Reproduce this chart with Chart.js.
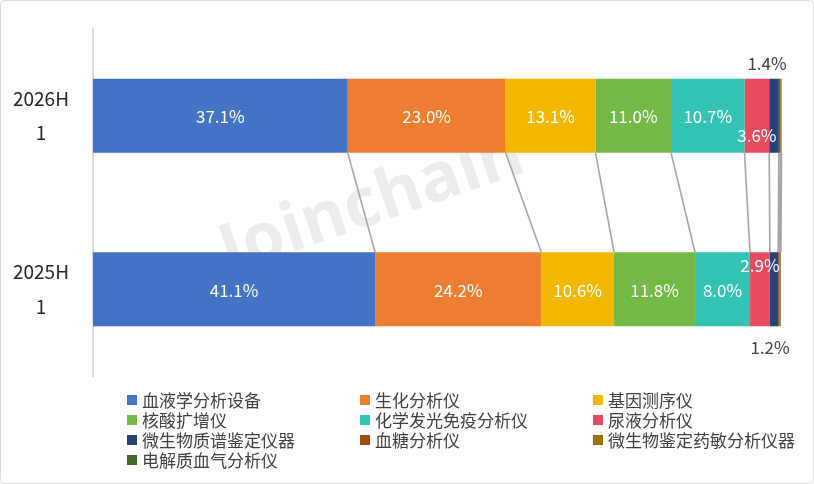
<!DOCTYPE html>
<html>
<head>
<meta charset="utf-8">
<script src="https://cdn.jsdelivr.net/npm/chart.js@4/dist/chart.umd.min.js"></script>
<style>
  html, body { margin: 0; padding: 0; background: #fff; }
  #wrap { position: absolute; left: 0; top: 0; width: 814px; height: 484px; }
</style>
</head>
<body>
<div id="wrap"><canvas id="myChart" width="814" height="484"></canvas></div>
<script>
// 数据
let periods = [["2026H", "1"], ["2025H", "1"]];
let devices = ["血液学分析设备", "生化分析仪", "基因测序仪", "核酸扩增仪", "化学发光免疫分析仪",
  "尿液分析仪", "微生物质谱鉴定仪器", "血糖分析仪", "微生物鉴定药敏分析仪器", "电解质血气分析仪"];
let share2026 = [37.1, 23.0, 13.1, 11.0, 10.7, 3.6, 1.4, 0.2, 0.1, 0.1];
let share2025 = [41.1, 24.2, 10.6, 11.8, 8.0, 2.9, 1.2, 0.2, 0.1, 0.1];
let colors = ["#4472C4", "#ED7D31", "#F2B800", "#74B946", "#33C3B4",
  "#E84A5F", "#264478", "#9E480E", "#997300", "#43682B"];

const fontCN = "'Noto Sans CJK SC', 'Noto Sans', sans-serif";

let datasets = devices.map((name, i) => ({
  label: name,
  data: [share2026[i], share2025[i]],
  backgroundColor: colors[i],
  borderWidth: 0,
  barPercentage: 0.427,
  categoryPercentage: 1,
}));

// 背景水印 + 外框 + 图例
const bgPlugin = {
  id: "bg",
  beforeDraw(chart) {
    const ctx = chart.ctx;
    ctx.save();
    ctx.fillStyle = "#fff";
    ctx.fillRect(0, 0, chart.width, chart.height);
    ctx.translate(372, 204);
    ctx.rotate(-19 * Math.PI / 180);
    ctx.fillStyle = "rgba(205,205,205,0.38)";
    ctx.font = "bold 68px 'Open Sans', sans-serif";
    ctx.textAlign = "center";
    ctx.textBaseline = "middle";
    ctx.fillText("Joinchain", 0, 0);
    ctx.font = "14px 'Open Sans', sans-serif";
    ctx.fillText("®", 172, -26);
    ctx.restore();
  },
  afterDraw(chart) {
    const ctx = chart.ctx;
    ctx.save();
    ctx.strokeStyle = "#D9D9D9";
    ctx.lineWidth = 1;
    ctx.beginPath();
    ctx.roundRect(0.5, 0.5, chart.width - 1, chart.height - 1, 4);
    ctx.stroke();

    ctx.font = "17px " + fontCN;
    ctx.textBaseline = "middle";
    ctx.textAlign = "left";
    const colX = [127, 360, 593];
    const rowY = [400, 420, 440, 460];
    devices.forEach((name, i) => {
      const x = colX[i % 3];
      const y = rowY[Math.floor(i / 3)];
      ctx.fillStyle = colors[i];
      ctx.fillRect(x, y - 5, 10, 10);
      ctx.fillStyle = "#404040";
      ctx.fillText(name, x + 15, y + 1);
    });
    ctx.restore();
  },
};

// 系列线
const linesPlugin = {
  id: "seriesLines",
  beforeDatasetsDraw(chart) {
    const ctx = chart.ctx;
    ctx.save();
    ctx.strokeStyle = "#A6A6A6";
    ctx.lineWidth = 1.6;
    for (let i = 0; i < datasets.length; i++) {
      const top = chart.getDatasetMeta(i).data[0];
      const bot = chart.getDatasetMeta(i).data[1];
      ctx.beginPath();
      ctx.moveTo(top.x, top.y + top.height / 2);
      ctx.lineTo(bot.x, bot.y - bot.height / 2);
      ctx.stroke();
    }
    ctx.restore();
  },
};

// 数据标签
const labelPlugin = {
  id: "valueLabels",
  afterDatasetsDraw(chart) {
    const ctx = chart.ctx;
    ctx.save();
    ctx.font = "17px " + fontCN;
    ctx.textAlign = "center";
    ctx.textBaseline = "middle";
    chart.data.datasets.forEach((ds, i) => {
      if (i >= 7) return;
      chart.getDatasetMeta(i).data.forEach((bar, j) => {
        const v = ds.data[j];
        const cx = (bar.x + bar.base) / 2;
        let x = cx, y = bar.y + 1, col = "#fff";
        if (i === 5) {
          y = j === 0 ? bar.y + 20 : bar.y - 24;
        }
        if (i === 6) {
          col = "#404040";
          if (j === 0) { x = cx - 7; y = bar.y - bar.height / 2 - 15; }
          else { x = cx - 4; y = bar.y + bar.height / 2 + 21; }
        }
        ctx.fillStyle = col;
        ctx.fillText(v.toFixed(1) + "%", x, y);
      });
    });
    ctx.restore();
  },
};

const ctx = document.getElementById("myChart").getContext("2d");
let myChart = new Chart(ctx, {
  type: "bar",
  data: { labels: periods, datasets: datasets },
  options: {
    indexAxis: "y",
    responsive: false,
    animation: false,
    layout: { padding: { top: 29, bottom: 108, right: 29, left: 0 } },
    plugins: { legend: { display: false }, tooltip: { enabled: false } },
    scales: {
      x: { stacked: true, display: false, min: 0, max: 100.8 },
      y: {
        stacked: true,
        afterFit(scale) {
          scale.width = 93;
          scale.paddingTop = 0;
          scale.paddingBottom = 0;
        },
        grid: { display: false, drawTicks: false },
        border: { display: true, color: "#D9D9D9", width: 2 },
        ticks: {
          crossAlign: "center",
          padding: 24,
          color: "#262626",
          font: { family: fontCN, size: 19, lineHeight: 1.8 },
        },
      },
    },
  },
  plugins: [bgPlugin, linesPlugin, labelPlugin],
});
</script>
</body>
</html>
